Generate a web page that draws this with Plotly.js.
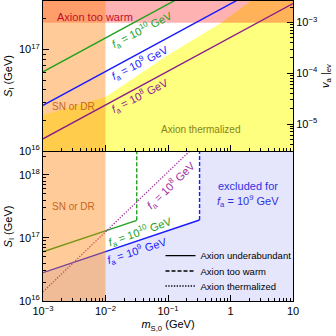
<!DOCTYPE html>
<html><head><meta charset="utf-8">
<script src="https://cdn.plot.ly/plotly-3.0.1.min.js"></script>
<style>html,body{margin:0;padding:0;background:#fff}#c{width:336px;height:336px}</style>
</head><body><div id="c"></div>
<script>
// ---------- data ----------
const massRange = [1e-3, 10];                 // m_S,0 (GeV)
const snMassLimit = 0.01;                      // SN or DR bound
const tooWarmS = 1.84e17;                      // S_I where v_a|ev = 1e-3
// Axion-thermalized boundary (top panel)
const thermM = [1e-3, 1e-2, 1e-1, 0.7, 2.1, 10];
const thermS = [2.26e16, 3.4e16, 8.83e16, 1.82e17, 3.0e17, 1.0e18];
// Underabundant lines, top panel (f_a = 1e10, 1e9, 1e8 GeV)
const lineM = [1e-3, 10];
const sFa10 = [6.03e16, 1.30e18];
const sFa9  = [2.82e16, 6.07e17];
const sFa8  = [1.32e16, 2.84e17];
// Bottom panel
const greenSolidM = [1e-3, 0.0316], greenSolidS = [6.03e16, 1.905e17];
const greenDashM  = [0.0316, 0.0316], greenDashS = [1.905e17, 1e19];
const blueSolidM  = [1e-3, 0.32],   blueSolidS  = [2.82e16, 1.93e17];
const blueDashM   = [0.32, 0.32],   blueDashS   = [1.93e17, 1e19];
const dotM = [1e-3, 1], dotS = [1.4e16, 1e19];
// legend
const legendNames = ['Axion underabundant', 'Axion too warm', 'Axion thermalized'];
// axes ticks
const xTicks = [1e-3, 1e-2, 1e-1, 1, 10];
const xTickText = ['10<sup>−3</sup>', '10<sup>−2</sup>', '10<sup>−1</sup>', '1', '10'];
const sTicks = [1e16, 1e17, 1e18];
const sTickText = ['10<sup>16</sup>', '10<sup>17</sup>', '10<sup>18</sup>'];
const vTicks = [1e-5, 1e-4, 1e-3];
const vTickText = ['10<sup>−5</sup>', '10<sup>−4</sup>', '10<sup>−3</sup>'];

// ---------- styling ----------
const F = 'Liberation Sans, Arial, sans-serif';
const cGreen = '#22a022', cBlue = '#1a1aff', cPurple = '#8b1a8b', cDot = '#a030a0';
const DASH = '4px,2px', DOT = '1.3px,1.5px';
const lo = 1e14, hi = 1e20, xlo = 1e-4, xhi = 100;

const traces = [];
// ---- top panel ----
traces.push({x: thermM.concat([xhi, xhi, xlo, xlo]), y: thermS.concat([thermS[thermS.length-1], lo, lo, thermS[0]]),
  xaxis:'x', yaxis:'y', mode:'lines', fill:'toself', fillcolor:'rgba(255,255,0,0.5)', line:{width:0}, showlegend:false, hoverinfo:'skip'});
traces.push({x:[xlo, xhi, xhi, xlo], y:[tooWarmS, tooWarmS, hi, hi], xaxis:'x', yaxis:'y', mode:'lines', fill:'toself',
  fillcolor:'rgba(255,0,0,0.3)', line:{width:0}, showlegend:false, hoverinfo:'skip'});
traces.push({x:[xlo, snMassLimit, snMassLimit, xlo], y:[lo, lo, hi, hi], xaxis:'x', yaxis:'y', mode:'lines', fill:'toself',
  fillcolor:'rgba(255,127,0,0.4)', line:{width:0}, showlegend:false, hoverinfo:'skip'});
[[sFa10, cGreen], [sFa9, cBlue], [sFa8, cPurple]].forEach(([s, c]) => {
  traces.push({x: lineM, y: s, xaxis:'x', yaxis:'y', mode:'lines', line:{color:c, width:1.4}, showlegend:false, hoverinfo:'skip'});
});
// dummy for right axis
traces.push({x:[massRange[0]], y:[vTicks[1]], xaxis:'x', yaxis:'y2', mode:'markers', marker:{opacity:0}, showlegend:false, hoverinfo:'skip'});

// ---- bottom panel ----
traces.push({x: [xlo].concat(blueSolidM, blueDashM.slice(1), [xhi, xhi, xlo]),
  y: [blueSolidS[0]].concat(blueSolidS, blueDashS.slice(1), [hi, lo, lo]),
  xaxis:'x2', yaxis:'y3', mode:'lines', fill:'toself', fillcolor:'rgba(0,0,230,0.1)', line:{width:0}, showlegend:false, hoverinfo:'skip'});
traces.push({x: greenSolidM, y: greenSolidS, xaxis:'x2', yaxis:'y3', mode:'lines', line:{color:cGreen, width:1.4}, showlegend:false});
traces.push({x: greenDashM, y: greenDashS, xaxis:'x2', yaxis:'y3', mode:'lines', line:{color:cGreen, width:1.4, dash:DASH}, showlegend:false});
traces.push({x: blueSolidM, y: blueSolidS, xaxis:'x2', yaxis:'y3', mode:'lines', line:{color:cBlue, width:1.4}, showlegend:false});
traces.push({x: blueDashM, y: blueDashS, xaxis:'x2', yaxis:'y3', mode:'lines', line:{color:cBlue, width:1.4, dash:DASH}, showlegend:false});
traces.push({x: dotM, y: dotS, xaxis:'x2', yaxis:'y3', mode:'lines', line:{color:cDot, width:1.3, dash:DOT}, showlegend:false});
traces.push({x:[xlo, snMassLimit, snMassLimit, xlo], y:[lo, lo, hi, hi], xaxis:'x2', yaxis:'y3', mode:'lines', fill:'toself',
  fillcolor:'rgba(255,127,0,0.4)', line:{width:0}, showlegend:false, hoverinfo:'skip'});
// legend entries (one legend per row for exact spacing)
const legendIds = ['legend', 'legend2', 'legend3'];
const legendDash = ['solid', DASH, DOT];
legendNames.forEach((n, i) => {
  traces.push({x:[null], y:[null], xaxis:'x2', yaxis:'y3', mode:'lines', name:n, legend:legendIds[i],
    line:{color:'#000', width:1.3, dash:legendDash[i]}});
});

const axBase = {type:'log', showgrid:false, zeroline:false, linecolor:'#000', linewidth:1, ticks:'inside', ticklen:6,
  tickcolor:'#000', tickfont:{family:F, size:11, color:'#000'}, minor:{ticks:'inside', ticklen:3, tickcolor:'#000', dtick:'D1', showgrid:false}};
const L = Math.log10;
const legStyle = (y) => ({x:0.47, y:y, xanchor:'left', yanchor:'middle', bgcolor:'rgba(0,0,0,0)', borderwidth:0,
  font:{family:F, size:9.5, color:'#000'}, tracegroupgap:0});
const layout = {
  width:336, height:336, margin:{l:43, r:43, t:1, b:35}, paper_bgcolor:'#fff', plot_bgcolor:'#fff',
  font:{family:F, size:11, color:'#000'},
  showlegend:true,
  legend: legStyle(0.151), legend2: legStyle(0.100), legend3: legStyle(0.050),
  xaxis: Object.assign({}, axBase, {range:[L(massRange[0]), L(massRange[1])], anchor:'y', showticklabels:false, mirror:true,
    tickmode:'array', tickvals:xTicks, ticktext:xTickText}),
  yaxis: Object.assign({}, axBase, {domain:[0.5, 1], range:[16, 17.478], anchor:'x', mirror:true,
    tickmode:'array', tickvals:sTicks, ticktext:sTickText,
    title:{text:'<i>S</i><sub>I</sub> (GeV)', font:{family:F, size:11}, standoff:4}}),
  yaxis2: Object.assign({}, axBase, {overlaying:'y', side:'right', anchor:'x', range:[-5.532, -2.576],
    tickmode:'array', tickvals:vTicks, ticktext:vTickText,
    title:{text:'<i>v</i><sub>a</sub> |<sub>ev</sub>', font:{family:F, size:11}, standoff:4}}),
  xaxis2: Object.assign({}, axBase, {range:[L(massRange[0]), L(massRange[1])], anchor:'y3', mirror:true,
    tickmode:'array', tickvals:xTicks, ticktext:xTickText,
    title:{text:'<i>m</i><sub>S,0</sub> (GeV)', font:{family:F, size:11}, standoff:4}}),
  yaxis3: Object.assign({}, axBase, {domain:[0, 0.4967], range:[16, 18.365], anchor:'x2', mirror:true,
    tickmode:'array', tickvals:sTicks, ticktext:sTickText,
    title:{text:'<i>S</i><sub>I</sub> (GeV)', font:{family:F, size:11}, standoff:4}}),
  annotations: [
    {xref:'x', yref:'y', x:-2.168, y:17.323, text:'Axion too warm', showarrow:false, font:{family:F, size:11, color:'#c0102a'}},
    {xref:'x', yref:'y', x:-2.52, y:16.443, text:'SN or DR', showarrow:false, font:{family:F, size:10, color:'#c8641e'}},
    {xref:'x', yref:'y', x:-0.488, y:16.207, text:'Axion thermalized', showarrow:false, font:{family:F, size:10, color:'#85851a'}},
    {xref:'x', yref:'y', x:-1.416, y:17.19, text:'<i>f</i><sub>a</sub> = 10<sup>10</sup> GeV', textangle:-27, showarrow:false, font:{family:F, size:11, color:cGreen}},
    {xref:'x', yref:'y', x:-1.448, y:16.867, text:'<i>f</i><sub>a</sub> = 10<sup>9</sup> GeV', textangle:-27, showarrow:false, font:{family:F, size:11, color:cBlue}},
    {xref:'x', yref:'y', x:-1.448, y:16.542, text:'<i>f</i><sub>a</sub> = 10<sup>8</sup> GeV', textangle:-27, showarrow:false, font:{family:F, size:11, color:cPurple}},
    {xref:'x2', yref:'y3', x:-2.52, y:17.497, text:'SN or DR', showarrow:false, font:{family:F, size:10, color:'#c8641e'}},
    {xref:'x2', yref:'y3', x:0.28, y:17.83, text:'excluded for', showarrow:false, font:{family:F, size:11, color:'#3030e0'}},
    {xref:'x2', yref:'y3', x:0.28, y:17.58, text:'<i>f</i><sub>a</sub> = 10<sup>9</sup> GeV', showarrow:false, font:{family:F, size:11, color:'#3030e0'}},
    {xref:'x2', yref:'y3', x:-0.96, y:17.83, text:'<i>f</i><sub>a</sub> = 10<sup>8</sup> GeV', textangle:-44, showarrow:false, font:{family:F, size:11, color:cDot}},
    {xref:'x2', yref:'y3', x:-1.448, y:17.1, text:'<i>f</i><sub>a</sub> = 10<sup>10</sup> GeV', textangle:-19, showarrow:false, font:{family:F, size:11, color:cGreen}},
    {xref:'x2', yref:'y3', x:-1.496, y:16.798, text:'<i>f</i><sub>a</sub> = 10<sup>9</sup> GeV', textangle:-18, showarrow:false, font:{family:F, size:11, color:cBlue}}
  ]
};
Plotly.newPlot('c', traces, layout, {staticPlot:true, displayModeBar:false});
</script></body></html>
